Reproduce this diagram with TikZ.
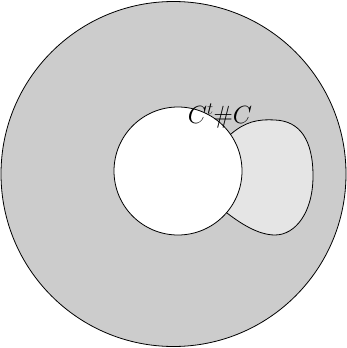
\documentclass[tikz,border=0pt]{standalone}
\begin{document}
\begin{tikzpicture}[x=1pt,y=-1pt,line width=0.8pt]
	\useasboundingbox (0,0) rectangle (347,348);
	
		\begin{scope}[shift={(0,0)}] 
		%Aussen
		\draw[fill=black!20] (173.5,174) circle (172.5);
		
		%Henkel
		\draw[fill=black!10] (231,134) .. controls (245,122) and (257,119) .. (275,120)
		.. controls (300,121) and (313,140) .. (313,176)
		.. controls (313,213) and (295,235) .. (275,235)
		.. controls (258,235) and (240,223) .. (227,213)
		.. controls (200,190) and (205,150) .. cycle;
		
		%Loch
		\draw[fill=white] (178,171) circle (64);
		\end{scope}
		
		\node[font=\fontsize{24}{28}\selectfont] (summe) at (220,116) {$C^t\#C$};

\end{tikzpicture}
\end{document}
